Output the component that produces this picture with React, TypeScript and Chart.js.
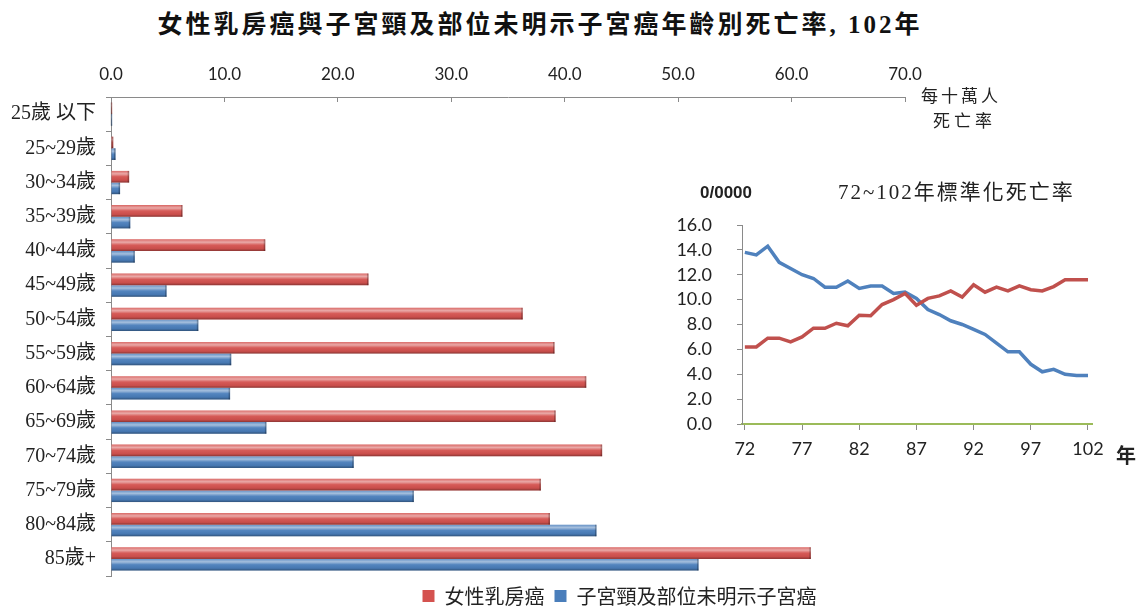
import React, { useEffect, useRef } from "react";
import { Chart, registerables } from "chart.js";

Chart.register(...registerables);

// ---- Main chart data (per 100,000 women, 102年) ----
const ageGroups = [
  "25歲 以下",
  "25~29歲",
  "30~34歲",
  "35~39歲",
  "40~44歲",
  "45~49歲",
  "50~54歲",
  "55~59歲",
  "60~64歲",
  "65~69歲",
  "70~74歲",
  "75~79歲",
  "80~84歲",
  "85歲+",
];
const breastRates = [0.1, 0.2, 1.6, 6.3, 13.6, 22.7, 36.3, 39.1, 41.9, 39.2, 43.3, 37.9, 38.7, 61.7];
const cervixRates = [0.1, 0.4, 0.8, 1.7, 2.1, 4.9, 7.7, 10.6, 10.5, 13.7, 21.4, 26.7, 42.8, 51.8];
const seriesNames = ["女性乳房癌", "子宮頸及部位未明示子宮癌"];

// ---- Inset data (standardized mortality, 72~102年) ----
const years = [72, 73, 74, 75, 76, 77, 78, 79, 80, 81, 82, 83, 84, 85, 86, 87, 88, 89, 90, 91, 92, 93, 94, 95, 96, 97, 98, 99, 100, 101, 102];
const breastTrend = [6.2, 6.2, 6.9, 6.9, 6.6, 7.0, 7.7, 7.7, 8.1, 7.9, 8.75, 8.7, 9.6, 10.0, 10.5, 9.55, 10.1, 10.3, 10.7, 10.2, 11.2, 10.6, 11.0, 10.7, 11.1, 10.8, 10.7, 11.05, 11.6, 11.6, 11.6];
const cervixTrend = [13.8, 13.6, 14.3, 13.0, 12.5, 12.0, 11.7, 11.0, 11.0, 11.5, 10.9, 11.1, 11.1, 10.5, 10.6, 10.1, 9.2, 8.8, 8.3, 8.0, 7.6, 7.2, 6.5, 5.8, 5.8, 4.8, 4.2, 4.4, 4.0, 3.9, 3.9];
const yearTicks = [72, 77, 82, 87, 92, 97, 102];

const RED = "#D4524F";
const BLUE = "#4A7EBB";
const AXIS = "#8a8a8a";
const TEXT = "#222";
const CJK = "'Liberation Serif', 'Noto Sans CJK TC', serif";

const barShine = {
  id: "barShine",
  afterDatasetsDraw(chart: any) {
    const ctx = chart.ctx;
    chart.data.datasets.forEach((_: any, i: number) => {
      const meta = chart.getDatasetMeta(i);
      meta.data.forEach((bar: any) => {
        const { x, y, base, height } = bar.getProps(["x", "y", "base", "height"], true);
        const left = Math.min(x, base);
        const w = Math.abs(x - base);
        if (w < 0.5) return;
        const top = y - height / 2;
        const g = ctx.createLinearGradient(0, top, 0, top + height);
        g.addColorStop(0, "rgba(255,255,255,0.15)");
        g.addColorStop(0.25, "rgba(255,255,255,0.5)");
        g.addColorStop(0.5, "rgba(255,255,255,0.05)");
        g.addColorStop(0.8, "rgba(0,0,0,0.05)");
        g.addColorStop(1, "rgba(0,0,0,0.35)");
        ctx.save();
        ctx.fillStyle = g;
        ctx.fillRect(left, top, w, height);
        ctx.fillStyle = "rgba(0,0,0,0.25)";
        ctx.fillRect(left + w - 1.5, top, 1.5, height);
        ctx.restore();
      });
    });
  },
};

// nudges the bottom legend so it is centred where the original places it
const legendShift = {
  id: "legendShift",
  afterLayout(chart: any) {
    const lg = chart.legend;
    if (lg) {
      lg.left += 50;
      lg.right += 50;
    }
  },
};

export default function App() {
  const mainRef = useRef<HTMLCanvasElement>(null);
  const insetRef = useRef<HTMLCanvasElement>(null);

  useEffect(() => {
    const main = new Chart(mainRef.current as HTMLCanvasElement, {
      type: "bar",
      data: {
        labels: ageGroups,
        datasets: [
          { label: seriesNames[0], data: breastRates, backgroundColor: RED, borderWidth: 0, categoryPercentage: 0.68, barPercentage: 1 },
          { label: seriesNames[1], data: cervixRates, backgroundColor: BLUE, borderWidth: 0, categoryPercentage: 0.68, barPercentage: 1 },
        ],
      },
      options: {
        indexAxis: "y",
        animation: false,
        responsive: false,
        maintainAspectRatio: false,
        layout: { padding: { left: 0, right: 0, top: 0, bottom: 0 } },
        plugins: {
          title: { display: false },
          tooltip: { enabled: false },
          legend: {
            position: "bottom",
            labels: {
              font: { family: "'Noto Sans CJK TC'", size: 20 },
              color: TEXT,
              boxWidth: 12,
              boxHeight: 12,
              padding: 10,
            },
          },
        },
        scales: {
          x: {
            position: "top",
            min: 0,
            max: 70,
            ticks: {
              stepSize: 10,
              callback: (v: any) => Number(v).toFixed(1),
              font: { family: "Lato", size: 17 },
              color: TEXT,
              padding: 17,
            },
            grid: { drawOnChartArea: false, tickLength: -5, color: AXIS },
            border: { color: AXIS, width: 1 },
            afterFit: (s: any) => {
              s.height = 97;
            },
          },
          y: {
            ticks: { font: { family: CJK, size: 20 }, color: TEXT, padding: 10 },
            grid: { drawOnChartArea: false, tickLength: 5, offset: true, color: AXIS },
            border: { color: AXIS, width: 1 },
            afterFit: (s: any) => {
              s.width = 111;
            },
          },
          yPad: {
            type: "linear",
            axis: "y",
            position: "right",
            display: true,
            ticks: { display: false },
            grid: { display: false, drawTicks: false },
            border: { display: false },
            afterFit: (s: any) => {
              s.width = 234;
            },
          },
        },
      } as any,
      plugins: [barShine, legendShift],
    });

    const inset = new Chart(insetRef.current as HTMLCanvasElement, {
      type: "line",
      data: {
        datasets: [
          {
            label: seriesNames[0],
            data: years.map((yr, i) => ({ x: yr, y: breastTrend[i] })),
            borderColor: "#C0504D",
            borderWidth: 3.5,
            pointRadius: 0,
            tension: 0,
          },
          {
            label: seriesNames[1],
            data: years.map((yr, i) => ({ x: yr, y: cervixTrend[i] })),
            borderColor: "#4F81BD",
            borderWidth: 3.5,
            pointRadius: 0,
            tension: 0,
          },
        ],
      },
      options: {
        animation: false,
        responsive: false,
        maintainAspectRatio: false,
        layout: { padding: { left: 0, right: 47, top: 50, bottom: 0 } },
        plugins: { legend: { display: false }, tooltip: { enabled: false }, title: { display: false } },
        scales: {
          x: {
            type: "linear",
            min: 71.75,
            max: 102.35,
            afterBuildTicks: (s: any) => {
              s.ticks = yearTicks.map((v) => ({ value: v }));
            },
            ticks: {
              callback: (v: any) => String(v),
              font: { family: "Lato", size: 18 },
              color: TEXT,
              padding: 8,
              autoSkip: false,
              maxRotation: 0,
            },
            grid: { drawOnChartArea: false, tickLength: 6, color: AXIS },
            border: { color: "#9BBB59", width: 2 },
            afterFit: (s: any) => {
              s.height = 51;
            },
          },
          y: {
            min: 0,
            max: 16,
            ticks: {
              stepSize: 2,
              callback: (v: any) => Number(v).toFixed(1),
              font: { family: "Lato", size: 18 },
              color: TEXT,
              padding: 25,
            },
            grid: { drawOnChartArea: false, tickLength: 5, color: AXIS },
            border: { color: AXIS, width: 1 },
            afterFit: (s: any) => {
              s.width = 72;
            },
          },
        },
      } as any,
    });

    return () => {
      main.destroy();
      inset.destroy();
    };
  }, []);

  return (
    <div
      style={{
        position: "fixed",
        left: 0,
        top: 0,
        width: 1139,
        height: 608,
        background: "#fff",
        overflow: "hidden",
      }}
    >
      <div
        style={{
          position: "absolute",
          left: 0,
          top: 10,
          width: 1080,
          textAlign: "center",
          fontFamily: CJK,
          fontWeight: "bold",
          fontSize: 25,
          lineHeight: "30px",
          letterSpacing: 3,
          color: "#111",
          whiteSpace: "nowrap",
        }}
      >
        女性乳房癌與子宮頸及部位未明示子宮癌年齡別死亡率, 102年
      </div>
      <canvas
        ref={mainRef}
        width={1139}
        height={616}
        style={{ position: "absolute", left: 0, top: 0, display: "block" }}
      />
      <div
        style={{
          position: "absolute",
          left: 921,
          top: 86,
          fontFamily: CJK,
          fontSize: 17,
          lineHeight: "22px",
          letterSpacing: 3,
          color: TEXT,
          whiteSpace: "nowrap",
        }}
      >
        每十萬人
      </div>
      <div
        style={{
          position: "absolute",
          left: 933,
          top: 111,
          fontFamily: CJK,
          fontSize: 17,
          lineHeight: "22px",
          letterSpacing: 4,
          color: TEXT,
          whiteSpace: "nowrap",
        }}
      >
        死亡率
      </div>
      <canvas
        ref={insetRef}
        width={469}
        height={300}
        style={{ position: "absolute", left: 670, top: 175, display: "block" }}
      />
      <div
        style={{
          position: "absolute",
          left: 700,
          top: 182,
          fontFamily: "'Liberation Sans', sans-serif",
          fontWeight: "bold",
          fontSize: 17,
          lineHeight: "22px",
          color: TEXT,
        }}
      >
        0/0000
      </div>
      <div
        style={{
          position: "absolute",
          left: 838,
          top: 179,
          fontFamily: CJK,
          fontSize: 21,
          lineHeight: "26px",
          letterSpacing: 2,
          color: TEXT,
          whiteSpace: "nowrap",
        }}
      >
        72~102年標準化死亡率
      </div>
      <div
        style={{
          position: "absolute",
          left: 1116,
          top: 442,
          fontFamily: "'Noto Sans CJK TC', sans-serif",
          fontWeight: "bold",
          fontSize: 20,
          lineHeight: "26px",
          color: TEXT,
        }}
      >
        年
      </div>
    </div>
  );
}
